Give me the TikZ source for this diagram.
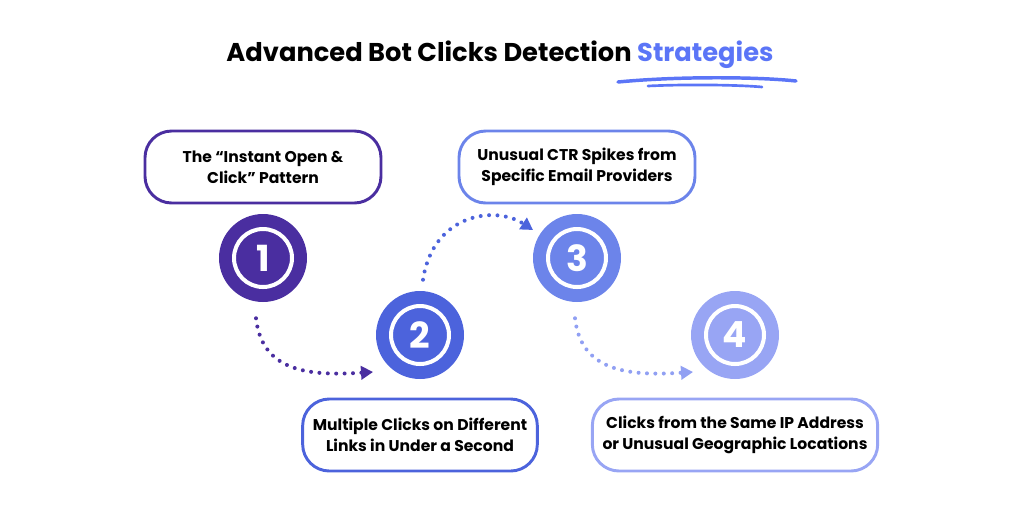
\documentclass[tikz,border=0pt]{standalone}
\usepackage{fontspec}
\setmainfont{Poppins}
\usetikzlibrary{positioning}
\usetikzlibrary{arrows.meta}
\definecolor{deeppurple}{RGB}{74, 46, 160}
\definecolor{royalblue}{RGB}{76, 99, 220}
\definecolor{midblue}{RGB}{108, 132, 234}
\definecolor{paleblue}{RGB}{152, 165, 244}
\definecolor{titleblue}{RGB}{91, 117, 247}

\begin{document}
\begin{tikzpicture}
  [
    x    = 0.75pt,
    y    = -0.75pt,
    flow/.style = {line width=3pt, line cap=round, dash pattern=on 0pt off 6.3pt,
                   -{Triangle[length=9pt,width=10pt]}}
  ]
  \useasboundingbox (0,0) rectangle (1024,512);
  \node [anchor=base, font=\fontsize{19.3}{23}\selectfont\bfseries] (title) at (500,61)
    {Advanced Bot Clicks Detection \textcolor{titleblue}{Strategies}};
  \draw [titleblue, line width=2.6pt, line cap=round] (618,82) .. controls (680,76) and (760,77) .. (796,81);
  \draw [titleblue, line width=2pt, line cap=round] (648,86) .. controls (690,84) and (740,85) .. (762,87);
  \begin{scope}[num/.style={circle, fill=#1, minimum size=66pt, inner sep=0pt, text=white,
                  font=\fontsize{27}{27}\selectfont\bfseries,
                  path picture={\draw[white, line width=3pt] (path picture bounding box.center) circle (21.75pt);}},
                card/.style={rectangle, rounded corners=20pt, draw=#1, line width=2.2pt, align=center,
                  minimum height=54pt, font=\fontsize{11.7}{16}\selectfont\bfseries},
                on grid]
  \node [num=deeppurple] (one) at (263,258) {1};
  \node [num=royalblue] (two) [below right=57.75pt and 117.75pt of one] {2};
  \node [num=midblue] (three) [above right=57.75pt and 117.75pt of two] {3};
  \node [num=paleblue] (four) [below right=57.75pt and 118.5pt of three] {4};
  \node [card=deeppurple, minimum width=177pt] (instant) [above=68.25pt of one]
    {The “Instant Open \&\\Click” Pattern};
  \node [card=royalblue, minimum width=176pt] (multi) [below=75pt of two]
    {Multiple Clicks on Different\\Links in Under a Second};
  \node [card=midblue, minimum width=177pt] (spikes) [above=68.25pt of three]
    {Unusual CTR Spikes from\\Specific Email Providers};
  \node [card=paleblue, minimum width=214pt] (sameip) [below=75pt of four]
    {Clicks from the Same IP Address\\or Unusual Geographic Locations};
  \draw [flow, deeppurple] ([shift={(-7,16)}]one.south) .. controls +(6,54) and +(-63,4) .. ([shift={(-47,37)}]two.center);
  \draw [flow, royalblue] ([shift={(3,-11)}]two.north) .. controls +(10,-66) and +(-38,-25) .. ([shift={(-44,-28)}]three.center);
  \draw [flow, paleblue!85!midblue] ([shift={(-2,16)}]three.south) .. controls +(6,54) and +(-63,4) .. ([shift={(-42,37)}]four.center);
  \end{scope}
\end{tikzpicture}
\end{document}
